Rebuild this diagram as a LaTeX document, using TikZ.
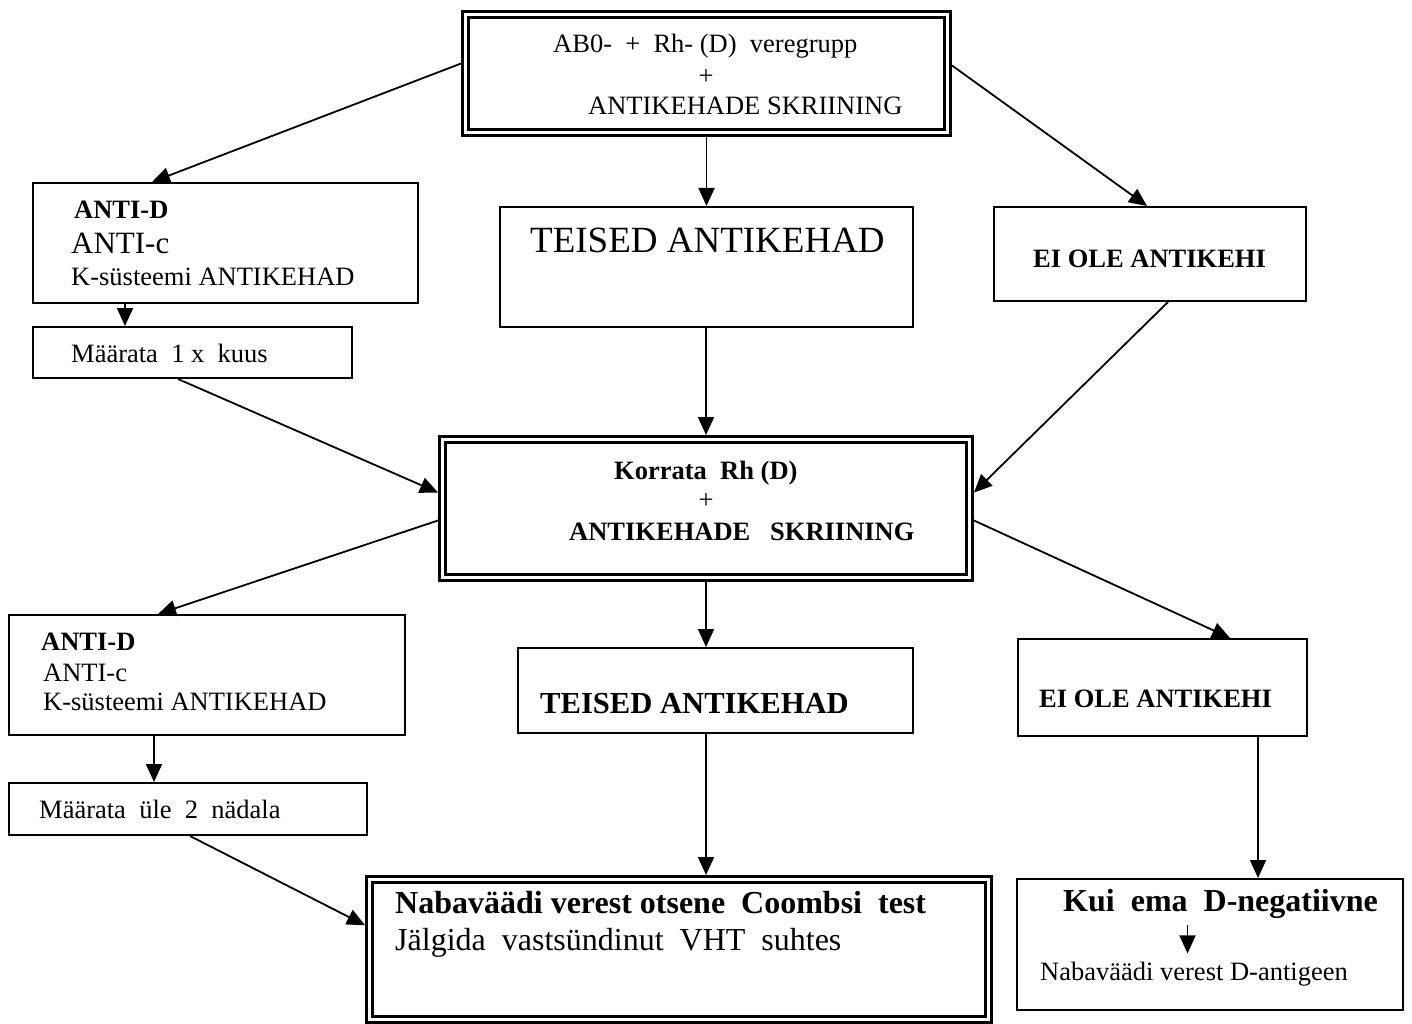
\documentclass[tikz,border=0pt]{standalone}
\usepackage{fontspec}
\setmainfont{Liberation Serif}
\usepackage{tikz}
\usetikzlibrary{arrows.meta}

\newcommand{\fsz}[1]{\fontsize{#1}{#1}\selectfont}

\begin{document}
\begin{tikzpicture}[x=1pt, y=-1pt]
  % ------- styles -------
  \tikzstyle{block}=[draw, line width=2pt, inner sep=0pt, outer sep=1pt]
  \tikzstyle{dblock}=[draw, line width=3pt, double, double distance=3pt, inner sep=0pt, outer sep=4.5pt]
  \tikzstyle{lbl}=[inner sep=0pt, anchor=base west, font=\fsz{26.5}]
  \tikzstyle{lblb}=[lbl, font=\fsz{26.5}\bfseries]
  \tikzstyle{link}=[-{Triangle[length=18pt,width=16pt]}, line width=1.8pt]

  \useasboundingbox (0,0) rectangle (1412,1024);

  % ------- boxes -------
  \node[dblock, minimum width=482pt, minimum height=118pt] (screen) at (706.5,73.5) {};
  \node[block, minimum width=385pt, minimum height=120pt] (anti1) at (225.5,243) {};
  \node[block, minimum width=319pt, minimum height=51pt] (month) at (192.5,352.5) {};
  \node[block, minimum width=413pt, minimum height=120pt] (other1) at (706.5,267) {};
  \node[block, minimum width=312pt, minimum height=94pt] (none1) at (1150,254) {};
  \node[dblock, minimum width=527pt, minimum height=138pt] (repeat) at (706,508.5) {};
  \node[block, minimum width=396pt, minimum height=120pt] (anti2) at (207,675) {};
  \node[block, minimum width=358pt, minimum height=52pt] (fortnight) at (188,809) {};
  \node[block, minimum width=395pt, minimum height=85pt] (other2) at (715.5,690.5) {};
  \node[block, minimum width=289pt, minimum height=97pt] (none2) at (1162.5,687.5) {};
  \node[dblock, minimum width=619pt, minimum height=139.5pt] (coombs) at (679,949.25) {};
  \node[block, minimum width=386pt, minimum height=131pt] (dneg) at (1210,944.5) {};

  % ------- texts -------
  \node[lbl] (scrA) at (553,53) {AB0-\ \ +\ \ Rh- (D)\ \ veregrupp};
  \node[lbl, anchor=base] (scrB) at (706,85) {+};
  \node[lbl] (scrC) at (588,115) {ANTIKEHADE SKRIINING};

  \node[lblb] (aA) at (74,219) {ANTI-D};
  \node[lbl, font=\fsz{31}] (aB) at (71,253) {ANTI-c};
  \node[lbl] (aC) at (71,285) {K-süsteemi ANTIKEHAD};
  \node[lbl] (mA) at (71,362) {Määrata\ \ 1 x\ \ kuus};

  \node[lbl, font=\fsz{37}] (oA) at (530,252) {TEISED ANTIKEHAD};
  \node[lblb] (nA) at (1033,267) {EI OLE ANTIKEHI};

  \node[lblb] (rA) at (614,479) {Korrata\ \ Rh (D)};
  \node[lbl, anchor=base] (rB) at (706,508) {+};
  \node[lblb] (rC) at (569,540) {ANTIKEHADE\ \ \ SKRIINING};

  \node[lblb] (bA) at (41,650) {ANTI-D};
  \node[lbl] (bB) at (43,681) {ANTI-c};
  \node[lbl] (bC) at (43,710) {K-süsteemi ANTIKEHAD};
  \node[lbl] (fA) at (39,818) {Määrata\ \ üle\ \ 2\ \ nädala};

  \node[lblb, font=\fsz{30.6}\bfseries] (pA) at (540,713) {TEISED ANTIKEHAD};
  \node[lblb] (qA) at (1039,707) {EI OLE ANTIKEHI};

  \node[lblb, font=\fsz{32}\bfseries] (cA) at (395,913) {Nabaväädi verest otsene\ \ Coombsi\ \ test};
  \node[lbl, font=\fsz{32}] (cB) at (395,950) {Jälgida\ \ vastsündinut\ \ VHT\ \ suhtes};

  \node[lblb, font=\fsz{32}\bfseries] (kui) at (1063,911) {Kui\ \ ema\ \ D-negatiivne};
  \node[lbl] (naba) at (1040,980) {Nabaväädi verest D-antigeen};

  % ------- arrows -------
  \draw[link] ([yshift=10pt]screen.west) -- ([xshift=-73.5pt]anti1.north);
  \draw[link] (screen) -- (other1);
  \draw[link] ([yshift=8pt]screen.east) -- ([xshift=-3pt]none1.north);

  \coordinate (a1) at ([xshift=-100.5pt]anti1.south);
  \draw[link] (a1) -- (a1 |- month.north);

  \draw[link] ([xshift=-14.5pt]month.south) -- ([yshift=16pt]repeat.west);
  \draw[link] (other1.south -| repeat.north) -- (repeat.north);
  \draw[link] ([xshift=18pt]none1.south) -- ([yshift=16pt]repeat.east);

  \draw[link] ([yshift=-12pt]repeat.west) -- ([xshift=-49pt]anti2.north);
  \draw[link] (repeat.south) -- (repeat.south |- other2.north);
  \draw[link] ([yshift=-12pt]repeat.east) -- ([xshift=67.5pt]none2.north);

  \coordinate (a2) at ([xshift=-53pt]anti2.south);
  \draw[link] (a2) -- (a2 |- fortnight.north);
  \draw[link] ([xshift=2pt]fortnight.south) -- ([yshift=24pt]coombs.west);

  \coordinate (o2) at ([xshift=-9.5pt]other2.south);
  \draw[link] (o2) -- (o2 |- coombs.north);

  \coordinate (n2) at ([xshift=95.5pt]none2.south);
  \draw[link] (n2) -- (n2 |- dneg.north);

  % inside the last box
  \coordinate (k1) at ([xshift=-33pt,yshift=-7pt]kui.south);
  \coordinate (k2) at (k1 |- naba.north);
  \draw[link] (k1) -- ([yshift=8pt]k2);

\end{tikzpicture}
\end{document}
